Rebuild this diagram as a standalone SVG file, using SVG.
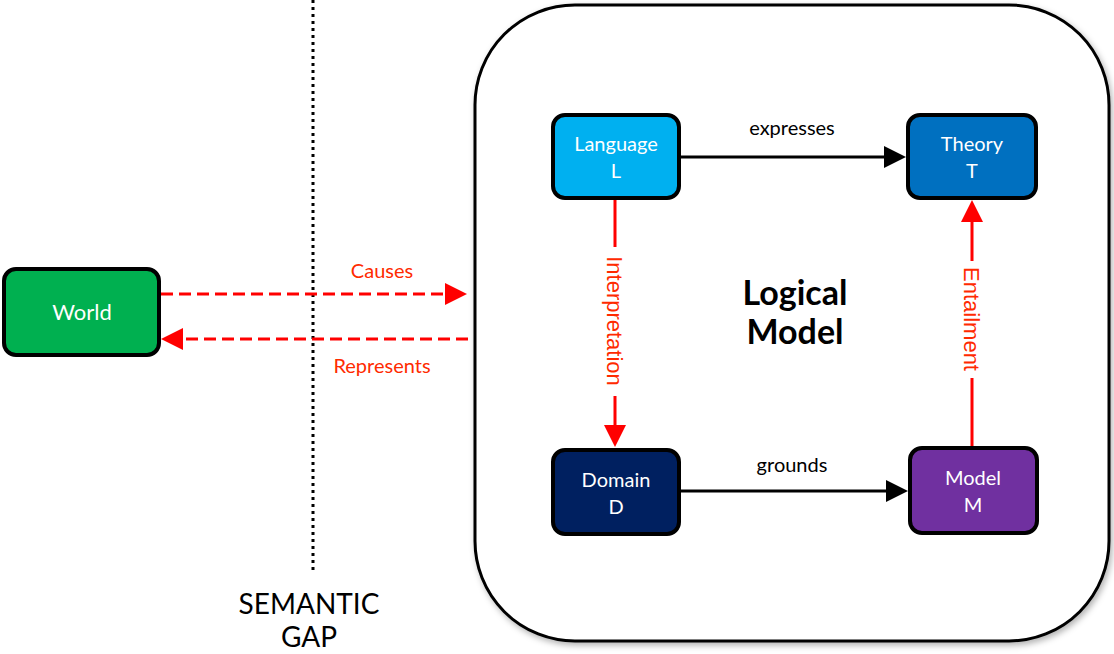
<svg xmlns="http://www.w3.org/2000/svg" width="1114" height="654" viewBox="0 0 1114 654">
<style>
.node rect{stroke:#000;stroke-width:4}
.nt{font-family:Lato,"Open Sans",sans-serif;font-size:20px;fill:#fff;text-anchor:middle}
.lbl{font-family:Lato,"Open Sans",sans-serif;font-size:20px;text-anchor:middle}
.red{fill:#FF2A00}
.vl{font-family:"Liberation Sans",Arial,sans-serif;font-size:22px;fill:#FF2A00;text-anchor:middle}
.blk{stroke:#000;stroke-width:3;fill:none}
.rd{stroke:#FF0000;stroke-width:3;fill:none}
.dash{stroke:#FF0000;stroke-width:3;fill:none;stroke-dasharray:12 6}
.big{font-family:Lato,"Open Sans",sans-serif;font-size:34px;font-weight:bold;text-anchor:middle}
.gap{font-family:Lato,"Open Sans",sans-serif;font-size:28px;text-anchor:middle}
</style>
<defs>
<filter id="sh" x="-5%" y="-5%" width="110%" height="110%"><feDropShadow dx="2" dy="3" stdDeviation="3" flood-color="#000" flood-opacity="0.3"/></filter>
</defs>
<rect width="1114" height="654" fill="#fff"/>
<g id="container">
<rect x="475" y="5" width="634" height="636" rx="100" ry="100" fill="#fff" stroke="#000" stroke-width="3" filter="url(#sh)"/>
<text class="big" x="795" y="305">Logical</text>
<text class="big" x="795" y="344">Model</text>
</g>
<g id="gap">
<line x1="313" y1="0" x2="313" y2="572" stroke="#000" stroke-width="3" stroke-dasharray="3 4"/>
<text class="gap" x="309" y="614">SEMANTIC</text>
<text class="gap" x="309" y="647">GAP</text>
</g>
<g id="connectors">
<path d="M680,157 H886" class="blk"/><path d="M884,146 L906,157 L884,168 z" fill="#000"/>
<text class="lbl" x="792" y="135">expresses</text>
<path d="M680,491 H888" class="blk"/><path d="M886,480 L908,491 L886,502 z" fill="#000"/>
<text class="lbl" x="792" y="472">grounds</text>
<path d="M161,294 H446" class="dash"/><path d="M445,283 L467,294 L445,305 z" fill="#FF0000"/>
<text class="lbl red" x="382" y="278">Causes</text>
<path d="M468,339 H182" class="dash"/><path d="M183,328 L161,339 L183,350 z" fill="#FF0000"/>
<text class="lbl red" x="382" y="373">Represents</text>
<path d="M615,199 V247 M615,396 V426" class="rd"/><path d="M604,425 L615,447 L626,425 z" fill="#FF0000"/>
<text class="vl" transform="translate(615,321) rotate(90)" y="8">Interpretation</text>
<path d="M972,447 V378 M972,261 V220" class="rd"/><path d="M961,222 L972,200 L983,222 z" fill="#FF0000"/>
<text class="vl" transform="translate(972,319) rotate(90)" y="8">Entailment</text>
</g>
<g id="world" class="node">
<rect x="4" y="269" width="155" height="86" rx="12" fill="#00B050"/>
<text class="nt" x="82" y="320" style="font-size:22px">World</text>
</g>
<g id="language" class="node">
<rect x="553" y="115" width="126" height="83" rx="12" fill="#00B0F0"/>
<text class="nt" x="616" y="151">Language</text>
<text class="nt" x="616" y="178">L</text>
</g>
<g id="theory" class="node">
<rect x="908" y="115" width="128" height="83" rx="12" fill="#0070C0"/>
<text class="nt" x="972" y="151">Theory</text>
<text class="nt" x="972" y="178">T</text>
</g>
<g id="domain" class="node">
<rect x="553" y="450" width="126" height="84" rx="12" fill="#002060"/>
<text class="nt" x="616" y="487">Domain</text>
<text class="nt" x="616" y="514">D</text>
</g>
<g id="model" class="node">
<rect x="910" y="448" width="127" height="85" rx="12" fill="#7030A0"/>
<text class="nt" x="973" y="485">Model</text>
<text class="nt" x="973" y="512">M</text>
</g>
</svg>
